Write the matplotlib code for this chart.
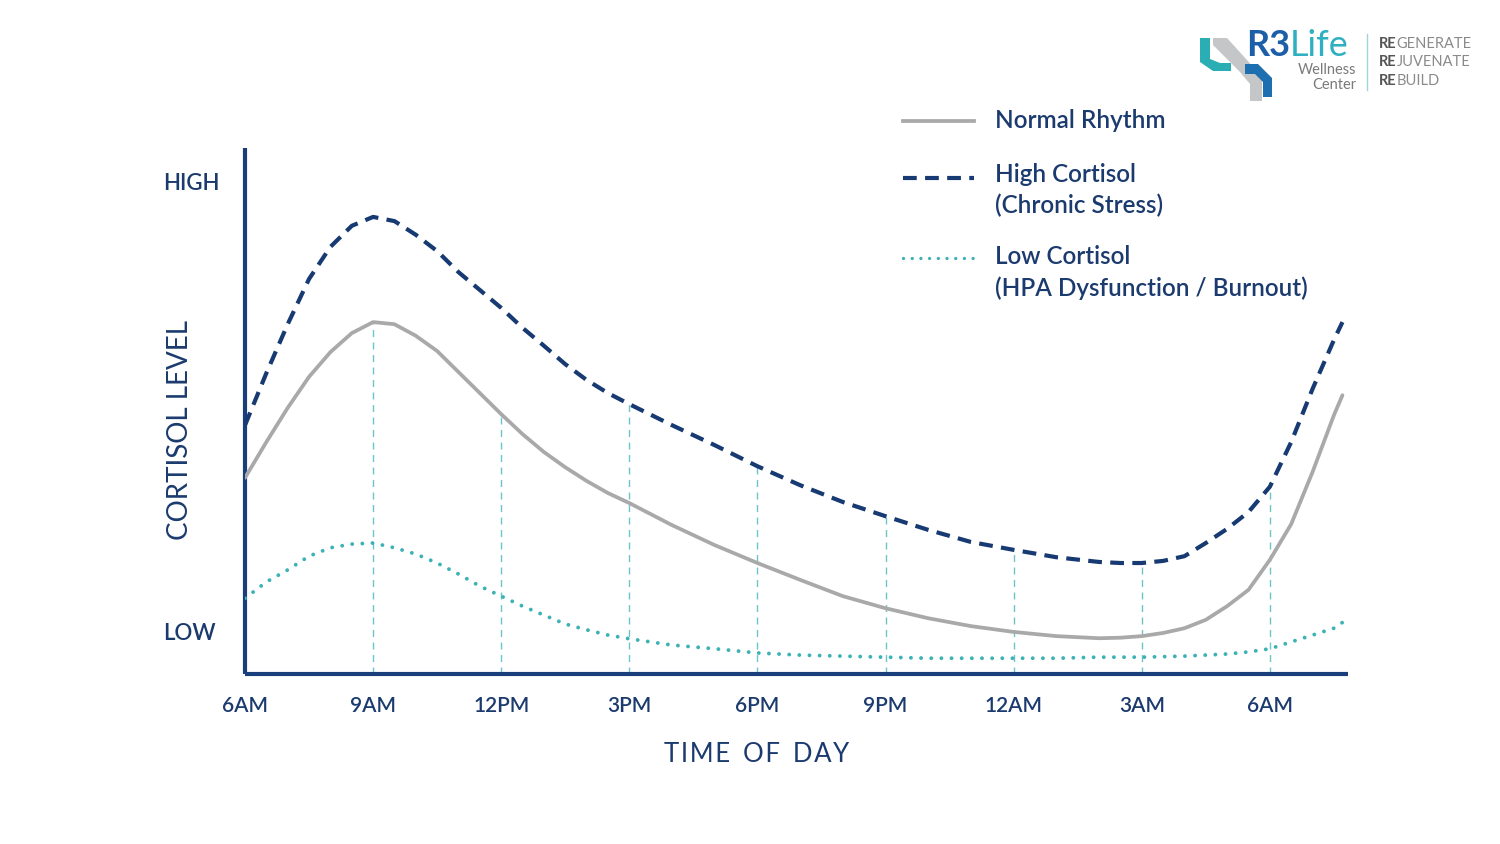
import matplotlib.pyplot as plt
from matplotlib.lines import Line2D
from matplotlib.patches import Polygon

plt.rcParams['font.family'] = ['Lato', 'DejaVu Sans']
plt.rcParams['font.weight'] = 'semibold'

# hours after 6AM (half hours where the curves bend most)
hours = [0, 0.5, 1, 1.5, 2, 2.5, 3, 3.5, 4, 4.5, 5, 5.5, 6, 6.5, 7, 7.5,
         8, 8.5, 9, 10, 11, 12, 13, 14, 15, 16, 17, 18, 19, 20,
         20.5, 21, 21.5, 22, 22.5, 23, 23.5, 24, 24.5, 25, 25.5, 25.7]
tick_hours = [0, 3, 6, 9, 12, 15, 18, 21, 24]
tick_labels = ['6AM', '9AM', '12PM', '3PM', '6PM', '9PM', '12AM', '3AM', '6AM']

# cortisol level, 0 = axis bottom, 100 = axis top
normal = [37.3, 44.1, 50.6, 56.5, 61.2, 64.8, 66.9, 66.5, 64.3, 61.4, 57.4,
          53.4, 49.4, 45.6, 42.2, 39.3,
          36.7, 34.4, 32.5, 28.3, 24.5, 21.1, 17.9, 14.8, 12.5, 10.6, 9.1,
          8.0, 7.2, 6.8,
          6.9, 7.2, 7.8, 8.7, 10.3, 12.9, 16.0, 21.7, 28.5, 38.4, 49.2, 53.0]
high = [47.3, 57.2, 66.5, 75.1, 81.2, 85.2, 86.9, 86.1, 83.5, 80.4, 76.4,
        73.0, 69.6, 65.8, 62.4, 58.9,
        55.9, 53.4, 51.3, 47.3, 43.5, 39.5, 35.9, 32.7, 30.0, 27.4, 25.1,
        23.6, 22.2, 21.3,
        21.1, 21.1, 21.5, 22.4, 24.9, 27.6, 30.8, 35.6, 44.1, 54.2, 63.5, 66.9]
low = [14.4, 17.5, 19.8, 22.4, 24.0, 24.7, 24.9, 24.0, 22.8, 21.1, 19.0,
       16.7, 14.8, 12.9, 11.2, 9.5,
       8.4, 7.4, 6.7, 5.5, 4.8, 4.0, 3.6, 3.4, 3.2, 3.0, 3.0, 3.0, 3.0, 3.2,
       3.2, 3.2, 3.3, 3.4, 3.6, 3.8, 4.2, 4.8, 6.1, 7.4, 8.7, 9.8]

# guide lines rise to the normal curve at 9AM/12PM and to the high curve after
guide_hours = [3, 6, 9, 12, 15, 18, 21, 24]
guide_curve = ['normal', 'normal', 'high', 'high', 'high', 'high', 'high', 'high']
series = {'normal': normal, 'high': high}
guide_tops = [series[c][hours.index(h)] for h, c in zip(guide_hours, guide_curve)]

navy = '#1b3a6e'
axis_col = '#1a3d7c'
gray = '#a9a9a9'
dash_col = '#173a72'
teal = '#3db2b6'
guide_col = '#6cc3c8'

W, H = 1500, 844
fig = plt.figure(figsize=(15, 8.44), dpi=100, facecolor='white')


def fx(x):
    return x / W


def fy(y):
    return 1 - y / H


ax = fig.add_axes([fx(245), fy(674), fx(1348) - fx(245), fy(148) - fy(674)])
ax.set_xlim(0, 25.83)
ax.set_ylim(0, 100)

ax.vlines(guide_hours, 0, guide_tops, colors=guide_col, linewidth=1.0,
          linestyles=(0, (5, 4)), zorder=1)

ax.plot(hours, normal, color=gray, lw=2.7, solid_capstyle='round',
        solid_joinstyle='round', zorder=3)
ax.plot(hours, high, color=dash_col, lw=3.0, dashes=(3.3, 2.0),
        dash_joinstyle='round', zorder=3)
ax.plot(hours, low, color=teal, lw=2.8, linestyle=(0, (0.01, 2.6)),
        dash_capstyle='round', zorder=3)

for s in ['top', 'right']:
    ax.spines[s].set_visible(False)
for s in ['left', 'bottom']:
    ax.spines[s].set_color(axis_col)
    ax.spines[s].set_linewidth(3)
    ax.spines[s].set_capstyle('butt')

ax.set_xticks(tick_hours)
ax.set_xticklabels(tick_labels, fontsize=15, color=navy)
ax.set_yticks([])
ax.tick_params(axis='x', length=0, pad=16)

ax.set_xlabel('T I M E   O F   D A Y'.replace('   ', '\u2002').replace(' ', '\u200a'),
              fontsize=18.5, color=navy)
ax.xaxis.set_label_coords((757 - 245) / 1103, -(754 - 674) / 526)
ax.xaxis.label.set_va('center')
ax.set_ylabel('CORTISOL LEVEL', fontsize=20, color=navy)
ax.yaxis.set_label_coords((180 - 245) / 1103, (674 - 430) / 526)
ax.yaxis.label.set_va('center')

ax.text(-0.0745, (674 - 183) / 5.26, 'HIGH', transform=ax.get_yaxis_transform(),
        fontsize=16, color=navy, ha='left', va='center')
ax.text(-0.0745, (674 - 634) / 5.26, 'LOW', transform=ax.get_yaxis_transform(),
        fontsize=16, color=navy, ha='left', va='center')

# legend drawn by hand so the handle sits beside the first text line
fig.add_artist(Line2D([fx(903), fx(974)], [fy(121), fy(121)], color=gray, lw=2.7))
fig.add_artist(Line2D([fx(903), fx(974)], [fy(178), fy(178)], color=dash_col,
                      lw=3.0, dashes=(3.3, 2.0)))
fig.add_artist(Line2D([fx(903), fx(974)], [fy(258), fy(258)], color=teal,
                      lw=2.4, linestyle=(0, (0.01, 2.6)), dash_capstyle='round'))
leg_kw = dict(fontsize=17.5, color=navy, ha='left', va='center')
fig.text(fx(995), fy(121), 'Normal Rhythm', **leg_kw)
fig.text(fx(995), fy(175), 'High Cortisol', **leg_kw)
fig.text(fx(995), fy(205), '(Chronic Stress)', **leg_kw)
fig.text(fx(995), fy(257), 'Low Cortisol', **leg_kw)
fig.text(fx(995), fy(288), '(HPA Dysfunction / Burnout)', **leg_kw)


# logo, top right
def poly(pts, color):
    fig.add_artist(Polygon([(fx(x), fy(y)) for x, y in pts], closed=True,
                           facecolor=color, edgecolor='none',
                           transform=fig.transFigure))


poly([(1213, 38), (1227, 38), (1256, 70), (1262, 80), (1262, 101),
      (1250, 101), (1250, 84), (1240, 72), (1213, 45)], '#c4c6c8')
poly([(1200, 38), (1210, 38), (1210, 59), (1220, 63), (1231, 63),
      (1231, 71), (1213, 71), (1200, 62)], '#2aaeb3')
poly([(1245, 64), (1258, 64), (1272, 78), (1272, 97), (1263, 97),
      (1263, 82), (1255, 74), (1245, 74)], '#1d6fb0')

renderer = fig.canvas.get_renderer()
t = fig.text(fx(1246), fy(45), 'R3', fontsize=26, fontweight='bold',
             color='#1d5ea8', ha='left', va='center')
bb = t.get_window_extent(renderer)
fig.text(bb.x1 / fig.bbox.width, fy(45), 'Life', fontsize=26, color='#2fb0c0',
         fontweight='normal', ha='left', va='center')
fig.text(fx(1356), fy(70), 'Wellness', fontsize=10.5, color='#7a7a7a',
         fontweight='normal', ha='right', va='center')
fig.text(fx(1356), fy(85), 'Center', fontsize=10.5, color='#7a7a7a',
         fontweight='normal', ha='right', va='center')
fig.add_artist(Line2D([fx(1367), fx(1367)], [fy(34), fy(90)],
                      color='#9fd6da', lw=1.0))

for y, rest in [(44, 'GENERATE'), (62, 'JUVENATE'), (81, 'BUILD')]:
    t = fig.text(fx(1379), fy(y), 'RE', fontsize=10.5, fontweight='bold',
                 color='#555555', ha='left', va='center')
    bb = t.get_window_extent(renderer)
    fig.text(bb.x1 / fig.bbox.width, fy(y), rest, fontsize=10.5,
             fontweight='normal', color='#8a8a8a', ha='left', va='center')

fig.savefig('out.png', dpi=100, facecolor='white')
